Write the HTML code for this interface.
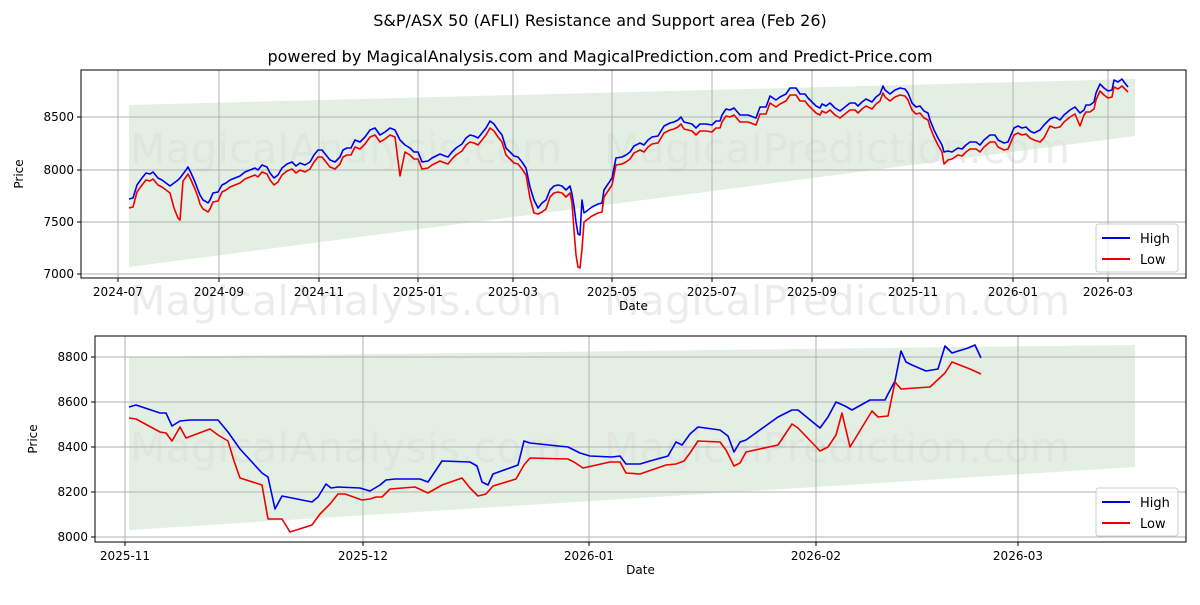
<!DOCTYPE html>
<html><head><meta charset="utf-8"><style>
body{margin:0;background:#fff;font-family:"Liberation Sans","DejaVu Sans",sans-serif}
svg text{font-family:"DejaVu Sans","Liberation Sans",sans-serif;fill:#000}
</style></head><body>
<svg id="s" width="1200" height="600" xmlns="http://www.w3.org/2000/svg">
<rect width="1200" height="600" fill="#fff"/>
<text x="600" y="26" font-size="16" text-anchor="middle">S&amp;P/ASX 50 (AFLI) Resistance and Support area (Feb 26)</text>
<text x="600" y="62" font-size="16" text-anchor="middle">powered by MagicalAnalysis.com and MagicalPrediction.com and Predict-Price.com</text>
<g id="wmid"></g>
<g id="top"></g><g id="bot"></g>
</svg>
<script>
const NS="http://www.w3.org/2000/svg";
function el(p,t,a,txt){const e=document.createElementNS(NS,t);for(const k in a)e.setAttribute(k,a[k]);if(txt!==undefined)e.textContent=txt;p.appendChild(e);return e;}
function pts(a){return a.map(p=>p[0]+","+p[1]).join(" ");}
function wm(g,y){
 el(g,"text",{x:130,y:y,"font-size":41,textLength:432,style:"fill:#dcdedc;opacity:.55"},"MagicalAnalysis.com");
 el(g,"text",{x:604,y:y,"font-size":41,textLength:466,style:"fill:#dcdedc;opacity:.55"},"MagicalPrediction.com");
}
wm(document.getElementById("wmid"),315);
function chart(g,L,T,R,B,xt,yt,band,hi,lo,wy){
 el(g,"polygon",{points:pts(band),fill:"#e3efe3"});
 wm(g,wy);
 xt.forEach(t=>{el(g,"line",{x1:t[0],x2:t[0],y1:T,y2:B,stroke:"#b0b0b0","stroke-width":1});
  el(g,"line",{x1:t[0],x2:t[0],y1:B,y2:B+4,stroke:"#000"});
  el(g,"text",{x:t[0],y:B+18,"font-size":12,"text-anchor":"middle"},t[1]);});
 yt.forEach(t=>{el(g,"line",{x1:L,x2:R,y1:t[0],y2:t[0],stroke:"#b0b0b0","stroke-width":1});
  el(g,"line",{x1:L-4,x2:L,y1:t[0],y2:t[0],stroke:"#000"});
  el(g,"text",{x:L-7,y:t[0]+4,"font-size":12,"text-anchor":"end"},t[1]);});
 el(g,"polyline",{points:pts(hi),fill:"none",stroke:"#0000ee","stroke-width":1.6,"stroke-linejoin":"round"});
 el(g,"polyline",{points:pts(lo),fill:"none",stroke:"#ee0000","stroke-width":1.6,"stroke-linejoin":"round"});
 el(g,"rect",{x:L,y:T,width:R-L,height:B-T,fill:"none",stroke:"#000","stroke-width":1});
 el(g,"text",{x:(L+R)/2,y:B+32,"font-size":12,"text-anchor":"middle"},"Date");
 const ly=(T+B)/2;el(g,"text",{x:0,y:0,"font-size":12,"text-anchor":"middle",transform:`translate(${L-58},${ly}) rotate(-90)`},"Price");
 el(g,"rect",{x:1096,y:B-54,width:82,height:48,rx:3,fill:"#fff","fill-opacity":"0.8",stroke:"#ccc"});
 el(g,"line",{x1:1102,x2:1130,y1:B-40,y2:B-40,stroke:"#0000ee","stroke-width":2});
 el(g,"text",{x:1140,y:B-35,"font-size":13},"High");
 el(g,"line",{x1:1102,x2:1130,y1:B-19,y2:B-19,stroke:"#ee0000","stroke-width":2});
 el(g,"text",{x:1140,y:B-14,"font-size":13},"Low");
}
const hiT=[[129,199],[133,198],[137,185],[142,178],[146,173],[150,174],[153,172],[158,178],[162,180],[166,183],[170,186],[174,183],[178,180],[180,178],[183,174],[186,170],[188,167],[191,173],[195,182],[198,190],[200,195],[203,200],[205,201],[208,203],[210,200],[213,193],[218,192],[222,185],[226,183],[230,180],[235,178],[240,176],[245,172],[250,170],[255,168],[258,170],[262,165],[267,167],[270,173],[274,178],[278,175],[282,168],[287,164],[292,162],[296,166],[300,163],[305,165],[310,162],[314,155],[318,150],[322,150],[326,155],[330,160],[335,162],[340,157],[343,150],[347,148],[351,148],[355,140],[360,142],[365,137],[370,130],[375,128],[380,135],[385,132],[390,128],[395,130],[400,140],[405,145],[410,148],[414,152],[418,152],[422,162],[428,161],[432,158],[440,154],[445,156],[448,157],[452,152],[456,148],[462,144],[466,138],[470,135],[474,136],[478,138],[482,133],[486,128],[490,121],[494,124],[498,130],[502,135],[506,148],[510,152],[514,156],[518,157],[522,162],[526,168],[530,187],[534,200],[538,208],[542,203],[546,200],[550,190],[554,186],[558,185],[562,186],[566,190],[570,186],[572,194],[574,206],[576,222],[578,234],[580,235],[582,200],[584,213],[588,210],[592,207],[598,204],[602,203],[604,190],[608,184],[612,178],[616,158],[622,157],[626,155],[630,152],[634,146],[640,143],[644,145],[648,140],[652,137],[658,136],[664,126],[670,123],[674,122],[678,120],[681,117],[684,122],[688,123],[692,124],[696,128],[700,124],[706,124],[712,125],[716,121],[720,121],[722,115],[726,109],[730,110],[734,108],[740,115],[744,115],[748,115],[756,118],[760,107],[766,107],[770,96],[776,100],[780,97],[786,94],[790,88],[796,88],[800,94],[805,94],[808,98],[812,102],[816,106],[820,108],[822,104],[826,106],[830,103],[835,108],[840,111],[845,107],[850,103],[855,103],[858,106],[862,102],[866,99],[868,100],[872,102],[876,97],[880,94],[883,86],[885,90],[890,94],[895,90],[900,88],[905,89],[908,93],[912,103],[916,107],[920,106],[924,111],[928,113],[930,120],[934,130],[938,138],[942,145],[944,152],[948,151],[952,152],[958,148],[962,149],[966,145],[970,142],[976,142],[980,145],[984,140],[990,135],[995,135],[998,140],[1004,143],[1008,142],[1014,128],[1018,126],[1022,128],[1026,127],[1030,131],[1034,133],[1040,130],[1044,125],[1050,119],[1055,117],[1060,120],[1064,115],[1070,110],[1075,107],[1080,113],[1084,110],[1086,105],[1090,105],[1094,102],[1096,93],[1100,84],[1104,88],[1108,91],[1112,90],[1114,80],[1118,82],[1122,79],[1124,82],[1128,87]];
const over={180:220,178:218,174:208,576:255,578:267,580:268,582:249,574:230,403:178,400:176,538:214,534:213,530:198,945:165,944:164,948:160,1080:126,1084:115,1124:88,1128:92,1055:128,1044:138,1040:142};
const loT=hiT.map(p=>[p[0],over[p[0]]!==undefined?over[p[0]]:p[1]+(p[1]>190?9:7)]);
chart(document.getElementById("top"),81,70,1186,278,
 [[118,"2024-07"],[219,"2024-09"],[319,"2024-11"],[418,"2025-01"],[513,"2025-03"],[612,"2025-05"],[712,"2025-07"],[812,"2025-09"],[913,"2025-11"],[1013,"2026-01"],[1108,"2026-03"]],
 [[117,"8500"],[170,"8000"],[222,"7500"],[274,"7000"]],
 [[129,105],[1135,79],[1135,136],[129,267]],hiT,loT,163);
const hiB=[[129,407],[136,405],[160,413],[166,413],[172,426],[180,421],[190,420],[218,420],[228,432],[240,449],[262,473],[268,477],[275,509],[282,496],[312,502],[318,497],[326,484],[331,488],[338,487],[360,488],[370,491],[380,485],[386,480],[395,479],[420,479],[428,482],[442,461],[470,462],[477,466],[482,482],[488,485],[493,474],[518,465],[524,441],[530,443],[568,447],[580,453],[590,456],[612,457],[620,456],[626,464],[640,464],[650,461],[668,456],[676,442],[682,445],[690,434],[698,427],[720,430],[728,436],[734,452],[740,442],[746,440],[778,417],[792,410],[798,410],[820,428],[828,417],[836,402],[845,406],[852,410],[870,400],[885,400],[888,394],[895,381],[901,351],[906,362],[912,365],[926,371],[938,369],[945,346],[952,353],[968,348],[975,345],[981,358]];
const loB=[[129,418],[136,419],[160,432],[166,433],[172,441],[180,427],[186,438],[210,429],[218,435],[228,441],[234,461],[240,478],[262,485],[268,519],[282,519],[290,532],[312,525],[320,514],[330,504],[338,494],[345,494],[362,500],[370,499],[376,497],[382,497],[390,489],[415,487],[428,493],[442,485],[462,478],[470,488],[478,496],[486,494],[493,486],[516,479],[524,465],[530,458],[568,459],[574,462],[583,468],[610,462],[620,462],[626,473],[640,474],[666,465],[676,464],[684,461],[690,453],[698,441],[720,442],[726,450],[734,466],[740,463],[746,452],[778,445],[792,424],[798,428],[820,451],[828,447],[836,435],[842,413],[850,447],[872,411],[878,417],[888,416],[895,382],[901,389],[930,387],[945,373],[952,362],[970,369],[981,374]];
chart(document.getElementById("bot"),95,336,1186,542,
 [[125,"2025-11"],[363,"2025-12"],[589,"2026-01"],[816,"2026-02"],[1018,"2026-03"]],
 [[357,"8800"],[402,"8600"],[447,"8400"],[492,"8200"],[537,"8000"]],
 [[129,357],[1135,345],[1135,467],[129,530]],hiB,loB,462);
</script>
</body></html>
